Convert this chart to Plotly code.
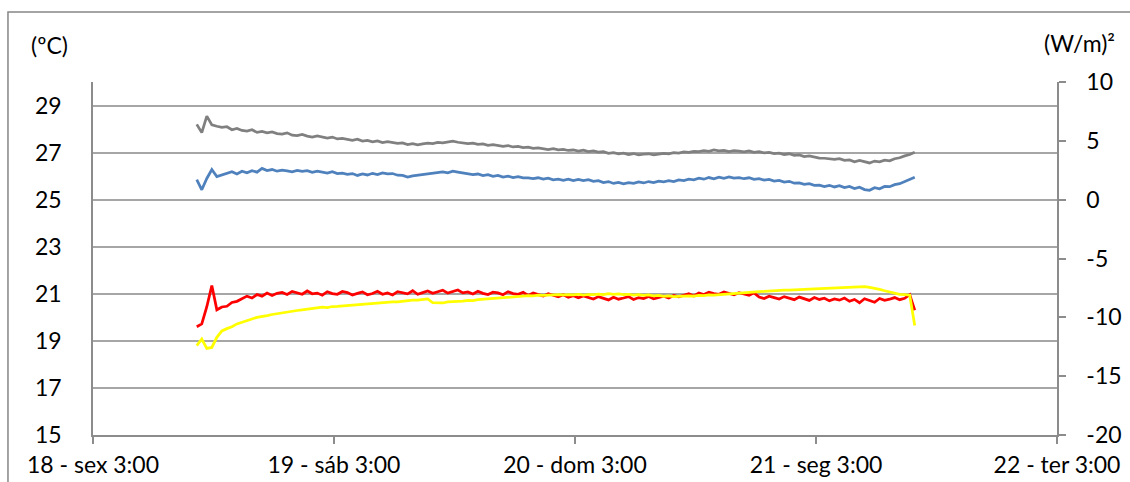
import pandas as pd
import plotly.graph_objects as go

# Sampling grid: readings every 30 minutes
start_time = "2013-10-18 13:20"
n_samples = 144
times = pd.date_range(start_time, periods=n_samples, freq="30min")

# Temperature series (ºC)
t_gray = [
    28.2, 27.85, 28.55, 28.18, 28.12, 28.07, 28.1, 27.97, 28.03, 27.94,
    27.91, 27.97, 27.86, 27.9, 27.84, 27.88, 27.81, 27.79, 27.84, 27.74,
    27.72, 27.77, 27.7, 27.66, 27.71, 27.65, 27.62, 27.66, 27.58, 27.6,
    27.55, 27.52, 27.57, 27.49, 27.52, 27.46, 27.5, 27.43, 27.47, 27.44,
    27.39, 27.41, 27.34, 27.38, 27.33, 27.37, 27.4, 27.38, 27.43, 27.41,
    27.46, 27.49, 27.44, 27.42, 27.38, 27.4, 27.35, 27.37, 27.31, 27.34,
    27.3, 27.27, 27.3, 27.24, 27.26, 27.21, 27.23, 27.18, 27.2, 27.16,
    27.13, 27.17, 27.12, 27.14, 27.09, 27.11, 27.06, 27.1, 27.04, 27.07,
    27.02, 27.04, 26.97, 27.0, 26.95, 26.98, 26.92, 26.96, 26.9, 26.93,
    26.95, 26.9, 26.94, 26.97, 26.95, 27.0, 26.98, 27.03, 27.01, 27.05,
    27.04, 27.08, 27.05, 27.11, 27.07, 27.09, 27.04, 27.08, 27.06, 27.03,
    27.07, 27.01, 27.04, 26.99, 27.01, 26.96, 26.98, 26.92, 26.95, 26.88,
    26.9, 26.83, 26.86, 26.8, 26.77, 26.76, 26.73, 26.71, 26.74, 26.67,
    26.69, 26.61, 26.67, 26.62, 26.56, 26.64, 26.61, 26.68, 26.65, 26.74,
    26.78, 26.86, 26.92, 27.02,
]

t_blue = [
    25.85, 25.42, 25.9, 26.28, 25.98, 26.06, 26.11, 26.19, 26.09, 26.21,
    26.14, 26.23, 26.17, 26.33, 26.24, 26.28, 26.21, 26.25, 26.22, 26.18,
    26.24, 26.2, 26.23, 26.16, 26.21, 26.18, 26.13, 26.19, 26.11, 26.13,
    26.08, 26.11, 26.03, 26.09, 26.05, 26.12, 26.07, 26.14, 26.1, 26.11,
    26.04, 26.03, 25.96, 26.01, 26.04, 26.05, 26.1, 26.12, 26.13, 26.18,
    26.14, 26.21, 26.17, 26.13, 26.11, 26.06, 26.09, 26.02, 26.06, 25.99,
    26.03, 25.96, 26.0, 25.94, 25.98, 25.93, 25.93, 25.89, 25.93, 25.87,
    25.91, 25.84, 25.87, 25.82, 25.87, 25.81, 25.86, 25.81, 25.85, 25.78,
    25.81, 25.73, 25.77, 25.69, 25.73, 25.67, 25.72, 25.69, 25.75, 25.71,
    25.77, 25.73, 25.79, 25.76, 25.81, 25.77, 25.84, 25.81, 25.87, 25.84,
    25.91, 25.87, 25.94, 25.89, 25.96, 25.91, 25.97, 25.92, 25.94, 25.89,
    25.93, 25.86, 25.89, 25.83, 25.86, 25.79, 25.82, 25.75, 25.78, 25.7,
    25.71, 25.65, 25.68, 25.61, 25.62, 25.56, 25.61, 25.54, 25.59, 25.51,
    25.56, 25.47, 25.53, 25.43, 25.4, 25.51, 25.46, 25.56, 25.55, 25.64,
    25.68, 25.76, 25.84, 25.95,
]

t_red = [
    19.6, 19.72, 20.45, 21.35, 20.32, 20.44, 20.47, 20.63, 20.68, 20.8,
    20.9, 20.82, 20.97, 20.9, 21.03, 20.93, 21.02, 21.06, 20.97, 21.1,
    21.04, 20.98, 21.12, 21.0, 21.03, 20.94, 21.09, 21.01, 20.98, 21.1,
    21.05, 20.95, 21.02, 21.08, 20.96, 21.01, 21.11, 20.98, 21.04, 20.95,
    21.09, 21.03, 21.0, 21.13, 20.98, 21.05, 21.12, 21.02, 21.07, 21.15,
    21.03, 21.1, 21.16, 21.04, 21.08, 20.99, 21.11, 21.02, 20.97, 21.07,
    21.04, 20.96, 21.09, 21.01, 20.98, 21.06, 20.93, 21.03, 20.97, 20.9,
    21.0, 20.92, 20.87, 20.96, 20.85, 20.92, 20.83, 20.91, 20.86, 20.78,
    20.88, 20.8, 20.74, 20.85, 20.77, 20.82, 20.88, 20.76, 20.84, 20.8,
    20.89, 20.79, 20.86, 20.9, 20.82, 20.93, 20.87, 20.95, 21.0, 20.91,
    21.03, 20.97, 21.07, 21.01, 20.98, 21.08, 21.02, 20.96, 21.05, 21.0,
    20.94, 21.04, 20.86, 20.8, 20.9, 20.84, 20.78, 20.88, 20.82, 20.75,
    20.86, 20.79, 20.72, 20.84, 20.76, 20.81, 20.7, 20.78, 20.73, 20.82,
    20.68, 20.76, 20.62, 20.79, 20.7, 20.64, 20.8, 20.72, 20.77, 20.84,
    20.75, 20.81, 20.96, 20.3,
]

t_yellow = [
    18.8, 19.08, 18.68, 18.72, 19.15, 19.42, 19.52, 19.6, 19.72, 19.8,
    19.88, 19.93, 20.0, 20.02, 20.07, 20.12, 20.16, 20.2, 20.22, 20.27,
    20.29, 20.32, 20.35, 20.37, 20.39, 20.43, 20.41, 20.46, 20.47, 20.49,
    20.5, 20.52, 20.54, 20.56, 20.57, 20.59, 20.6, 20.62, 20.64, 20.66,
    20.66, 20.69, 20.7, 20.73, 20.73, 20.76, 20.78, 20.62, 20.63, 20.61,
    20.66, 20.66, 20.69, 20.69, 20.72, 20.71, 20.75, 20.77, 20.79, 20.8,
    20.83, 20.84, 20.86, 20.87, 20.89, 20.9, 20.92, 20.91, 20.94, 20.93,
    20.95, 20.94, 20.96, 20.95, 20.97, 20.95, 20.98, 20.94, 20.97, 20.96,
    20.99, 20.97, 21.01, 20.98, 21.0, 20.97, 20.98, 20.94, 20.96, 20.93,
    20.95, 20.91, 20.93, 20.89, 20.91, 20.88, 20.9, 20.89, 20.91, 20.9,
    20.93, 20.92, 20.95, 20.94, 20.96, 20.96, 20.99, 20.99, 21.02, 21.03,
    21.05, 21.07, 21.09, 21.1, 21.12, 21.13, 21.14, 21.16, 21.16, 21.18,
    21.18, 21.19, 21.2, 21.21, 21.21, 21.23, 21.23, 21.25, 21.25, 21.27,
    21.27, 21.29, 21.29, 21.3, 21.27, 21.24, 21.19, 21.13, 21.08, 21.02,
    20.98, 20.96, 20.94, 19.65,
]

# Axis ticks
x_tick_vals = ["2013-10-18 03:00", "2013-10-19 03:00", "2013-10-20 03:00",
               "2013-10-21 03:00", "2013-10-22 03:00"]
x_tick_text = ["18 - sex 3:00", "19 - sáb 3:00", "20 - dom 3:00",
               "21 - seg 3:00", "22 - ter 3:00"]
y_left_ticks = [15, 17, 19, 21, 23, 25, 27, 29]
y_right_ticks = [-20, -15, -10, -5, 0, 5, 10]
y_right_text = ["-20", "-15", "-10", "-5", "0", "5", "10"]

FONT = "Lato"
AXIS_GRAY = "#8c8c8c"
GRID_GRAY = "#a6a6a6"

fig = go.Figure()
for vals, color in [(t_gray, "#808080"), (t_blue, "#4f81bd"),
                    (t_red, "#ff0000"), (t_yellow, "#ffff00")]:
    fig.add_trace(go.Scatter(x=times, y=vals, mode="lines",
                             line=dict(color=color, width=2.75),
                             showlegend=False, hoverinfo="skip"))

# empty trace to anchor the secondary (W/m²) axis
fig.add_trace(go.Scatter(x=[], y=[], yaxis="y2", showlegend=False))

fig.update_layout(
    width=1130, height=482,
    margin=dict(l=93, r=73, t=82, b=47),
    paper_bgcolor="white", plot_bgcolor="white",
    font=dict(family=FONT, size=23, color="#000000"),
    xaxis=dict(
        type="date", automargin=False,
        range=["2013-10-18 03:00", "2013-10-22 03:00"],
        tickvals=x_tick_vals, ticktext=x_tick_text,
        showgrid=False, zeroline=False,
        showline=True, linecolor=AXIS_GRAY, linewidth=1.5,
        ticks="outside", ticklen=7, tickwidth=1.5, tickcolor=AXIS_GRAY,
        ticklabelstandoff=2,
    ),
    yaxis=dict(
        range=[15, 30], tickvals=y_left_ticks, automargin=False,
        showgrid=True, gridcolor=GRID_GRAY, gridwidth=1.5,
        zeroline=False, showline=True, linecolor=AXIS_GRAY, linewidth=1.5,
        ticks="", ticklabelstandoff=25,
    ),
    yaxis2=dict(
        overlaying="y", side="right", range=[-20, 10], automargin=False,
        tickvals=y_right_ticks, ticktext=y_right_text,
        showgrid=False, zeroline=False,
        showline=True, linecolor=AXIS_GRAY, linewidth=1.5,
        ticks="outside", ticklen=7, tickwidth=1.5, tickcolor=AXIS_GRAY,
        ticklabelstandoff=16,
    ),
    annotations=[
        dict(text="(ºC)", xref="paper", yref="paper", x=-0.0451, y=1.105,
             xanchor="center", yanchor="middle", showarrow=False,
             font=dict(family=FONT, size=23)),
        dict(text="(W/m)²", xref="paper", yref="paper", x=1.0622, y=1.11,
             xanchor="right", yanchor="middle", showarrow=False,
             font=dict(family=FONT, size=23)),
    ],
    shapes=[
        dict(type="rect", xref="paper", yref="paper",
             x0=-0.0882, x1=1.09, y0=-0.2, y1=1.1983,
             line=dict(color="#868686", width=1.5), layer="below"),
    ],
)

fig.write_html("out.html")
